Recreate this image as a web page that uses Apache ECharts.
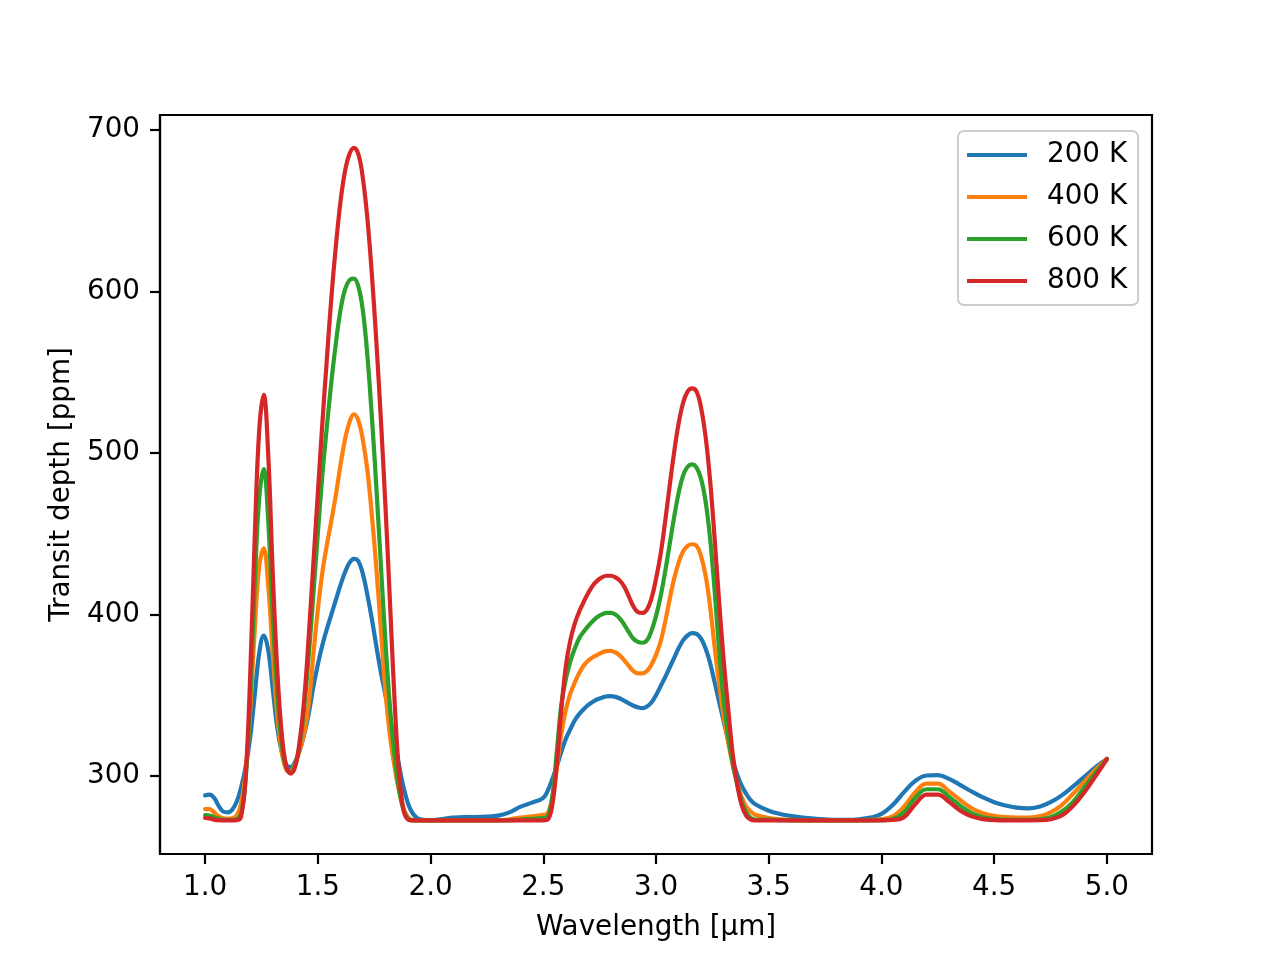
<!DOCTYPE html>
<html>
<head>
<meta charset="utf-8">
<script src="https://cdn.jsdelivr.net/npm/echarts@6/dist/echarts.min.js"></script>
<style>
  html, body { margin: 0; padding: 0; background: #fff; }
  #chart { width: 1280px; height: 960px; }
</style>
</head>
<body>
<div id="chart"></div>
<script>
// wavelength grid [um]
const waves = [
  1.00, 1.02, 1.04, 1.06, 1.08, 1.10, 1.12, 1.14, 1.16, 1.18,
  1.20, 1.22, 1.24, 1.26, 1.28, 1.30, 1.32, 1.34, 1.36, 1.38,
  1.40, 1.42, 1.44, 1.46, 1.48, 1.50, 1.52, 1.54, 1.56, 1.58,
  1.60, 1.62, 1.64, 1.66, 1.68, 1.70, 1.72, 1.74, 1.76, 1.78,
  1.80, 1.82, 1.84, 1.86, 1.88, 1.90, 1.92, 1.94, 1.96,
  2.00, 2.05, 2.10, 2.15, 2.20, 2.25, 2.30, 2.35, 2.40, 2.45, 2.50,
  2.52, 2.54, 2.56, 2.58, 2.60, 2.62, 2.64, 2.66, 2.68, 2.70,
  2.72, 2.74, 2.76, 2.78, 2.80, 2.82, 2.84, 2.86, 2.88, 2.90,
  2.92, 2.94, 2.96, 2.98, 3.00, 3.02, 3.04, 3.06, 3.08, 3.10,
  3.12, 3.14, 3.16, 3.18, 3.20, 3.22, 3.24, 3.26, 3.28, 3.30,
  3.32, 3.34, 3.36, 3.38, 3.40, 3.42, 3.44,
  3.50, 3.55, 3.60, 3.65, 3.70, 3.75, 3.80, 3.85, 3.90, 3.95,
  4.00, 4.05, 4.10, 4.15, 4.20, 4.25, 4.30, 4.35, 4.40, 4.45,
  4.50, 4.55, 4.60, 4.65, 4.70, 4.75, 4.80, 4.85, 4.90, 4.95,
  5.00
]

// transit depth [ppm] per temperature
const depth200 = [
  288, 288.5, 286.5, 281.5, 278, 277.5, 279, 284, 293, 306,
  324, 350, 376, 387, 378, 354, 330, 315, 307, 305.5,
  309, 316, 326, 339, 355, 369, 381, 391, 400, 409,
  418, 426, 432, 434.5, 433, 425, 412, 397, 380, 364,
  350, 336, 322, 307, 293, 283, 277, 274, 273,
  272.6, 273.3, 274.2, 274.6, 274.6, 274.8, 275.5, 277.5, 281, 283.5, 286.5,
  291, 298, 306, 315, 323, 329, 334.5, 338.5, 341.5, 344,
  346, 347.5, 348.5, 349.3, 349.5, 349, 348, 346.5, 345, 343.5,
  342.5, 342, 343, 345.5, 350, 355.5, 361, 367, 373, 379,
  384, 387, 388.5, 388, 385, 379, 370, 358, 346, 334,
  322, 310, 301, 294, 289, 285, 282.5,
  278.5, 276.5, 275.2, 274.3, 273.6, 273.1, 272.8, 272.8, 273.2, 274.2,
  276.5, 282, 290, 297, 300.3, 300.5, 298.2, 294.4, 290.4, 286.8,
  283.8, 281.7, 280.4, 280, 281, 283.8, 288, 293.5, 299.5, 305.5,
  310.5
]

const depth400 = [
  279.5, 279.5, 277.5, 275, 273.8, 273.5, 273.8, 275.5, 283, 303,
  340, 390, 430, 441, 418, 376, 338, 315, 304, 303,
  308, 316, 327, 345, 375, 403, 426, 443, 458, 474,
  492, 508, 519, 524, 520, 508, 489, 461, 428, 390,
  352, 325, 306, 291, 280, 274.5, 272.8, 272.5, 272.5,
  272.5, 272.5, 272.5, 272.5, 272.5, 272.5, 272.5, 273.2, 274.2, 275, 276,
  277, 287, 305, 326, 341, 351, 358, 364, 368.5, 371.5,
  373.5, 375, 376.5, 377.3, 377.5, 376.5, 374.5, 371.5, 368, 365,
  363.5, 363.5, 365, 369, 375, 383, 395, 409, 422, 432,
  439, 442.5, 443.5, 442.5, 436, 424, 405, 380, 357, 337,
  321, 307, 296, 287, 281, 278, 276,
  274, 273.2, 272.8, 272.6, 272.5, 272.5, 272.5, 272.5, 272.6, 272.8,
  273.3, 275, 281, 290, 295.3, 295.3, 290.5, 285, 280, 277,
  275.3, 274.5, 274.2, 274.2, 275, 277.5, 282, 289, 296.5, 304,
  310.5
]

const depth600 = [
  275.8, 275.5, 274.5, 273.5, 273, 272.8, 272.8, 273.2, 277, 298,
  348, 418, 472, 490, 458, 400, 351, 320, 305, 302,
  307, 320, 343, 375, 412, 450, 486, 516, 544, 568,
  588, 601, 607, 608, 603, 588, 560, 522, 478, 430,
  383, 343, 313, 292, 279, 273.5, 272.5, 272.5, 272.5,
  272.5, 272.5, 272.5, 272.5, 272.5, 272.5, 272.5, 272.5, 273, 273.5, 274,
  275, 287, 315, 344, 360, 371, 379, 385.5, 389.5, 393,
  396, 398.5, 400, 401, 401, 400, 397.5, 393.5, 389, 385,
  383, 382.5, 384, 390, 399, 411, 426, 443, 460, 475,
  486, 491.5, 493, 491, 484, 470, 447, 415, 378, 347,
  325, 308, 295, 284, 277.5, 274, 273,
  273, 272.6, 272.5, 272.5, 272.5, 272.5, 272.5, 272.5, 272.5, 272.5,
  272.6, 273.3, 277.5, 286.5, 291.8, 291.8, 287, 281.5, 277, 274.5,
  273.4, 273, 272.8, 272.8, 273.2, 274.5, 278, 284, 293, 302,
  310.5
]

const depth800 = [
  274, 273.8, 273, 272.6, 272.5, 272.5, 272.5, 272.6, 275, 300,
  362, 447, 514, 536, 499, 426, 366, 326, 306, 301.5,
  306, 322, 348, 387, 431, 475, 518, 558, 596, 628,
  655, 674, 685, 689, 685, 670, 645, 610, 568, 520,
  467, 408, 348, 302, 279, 273, 272.5, 272.5, 272.5,
  272.5, 272.5, 272.5, 272.5, 272.5, 272.5, 272.5, 272.5, 272.5, 272.5, 272.5,
  273, 282, 307, 341, 368, 384, 394.5, 402, 408, 413.5,
  418, 421, 423, 424, 424, 423, 421, 417, 411, 405,
  401.5, 401, 403, 410, 422, 437, 457, 479, 500, 518,
  531, 538, 540, 538, 528, 510, 483, 447, 408, 372,
  342, 314, 295, 282, 275.5, 273, 272.5,
  272.5, 272.5, 272.5, 272.5, 272.5, 272.5, 272.5, 272.5, 272.5, 272.5,
  272.5, 272.8, 274.5, 282.5, 288.5, 288.5, 284, 278.5, 275, 273.3,
  272.7, 272.5, 272.5, 272.5, 272.6, 273.2, 275.5, 281.5, 290, 300,
  310.5
]

const seriesNames = ['200 K', '400 K', '600 K', '800 K']
const seriesColors = ['#1f77b4', '#ff7f0e', '#2ca02c', '#d62728']
const xTicks = [1.0, 1.5, 2.0, 2.5, 3.0, 3.5, 4.0, 4.5, 5.0]
const yTicks = [300, 400, 500, 600, 700]

const allDepths = [depth200, depth400, depth600, depth800]
const font = 'DejaVu Sans'
const fs = 27.8

const chart = echarts.init(document.getElementById('chart'), null, { renderer: 'canvas' })

const axisCommon = {
  axisLine: { show: true, onZero: false, lineStyle: { color: '#000', width: 2.2 } },
  splitLine: { show: false },
  axisLabel: { color: '#000', fontFamily: font, fontSize: fs, margin: 20 },
  axisTick: { show: true, inside: false, length: 10, lineStyle: { color: '#000', width: 2.2 } },
  nameLocation: 'middle',
  nameTextStyle: { color: '#000', fontFamily: font, fontSize: fs }
}

chart.setOption({
  animation: false,
  color: seriesColors,
  grid: {
    left: 160, right: 128, top: 115, bottom: 106,
    show: true, borderColor: '#000', borderWidth: 2.2, backgroundColor: 'transparent'
  },
  legend: {
    data: seriesNames,
    orient: 'vertical',
    left: 958,
    top: 131,
    padding: [10, 11, 10, 9],
    itemWidth: 60,
    itemHeight: 4,
    itemGap: 14,
    icon: 'rect',
    backgroundColor: '#fff',
    borderColor: '#cccccc',
    borderWidth: 2,
    borderRadius: 6,
    textStyle: { color: '#000', fontFamily: font, fontSize: fs, padding: [0, 0, 0, 15] }
  },
  xAxis: Object.assign({}, axisCommon, {
    type: 'value',
    min: 0.8,
    max: 5.2,
    name: 'Wavelength [μm]',
    nameGap: 60,
    axisLabel: Object.assign({}, axisCommon.axisLabel, {
      customValues: xTicks,
      formatter: v => v.toFixed(1)
    }),
    axisTick: Object.assign({}, axisCommon.axisTick, { customValues: xTicks })
  }),
  yAxis: Object.assign({}, axisCommon, {
    type: 'value',
    min: 251.7,
    max: 709.3,
    name: 'Transit depth [ppm]',
    nameGap: 84,
    axisLabel: Object.assign({}, axisCommon.axisLabel, {
      customValues: yTicks,
      formatter: v => String(Math.round(v))
    }),
    axisTick: Object.assign({}, axisCommon.axisTick, { customValues: yTicks })
  }),
  series: allDepths.map((d, k) => ({
    name: seriesNames[k],
    type: 'line',
    data: waves.map((w, i) => [w, d[i]]),
    showSymbol: false,
    smooth: 0.4,
    lineStyle: { width: 4.2, color: seriesColors[k], join: 'round', cap: 'round' },
    itemStyle: { color: seriesColors[k] }
  }))
})
</script>
</body>
</html>
